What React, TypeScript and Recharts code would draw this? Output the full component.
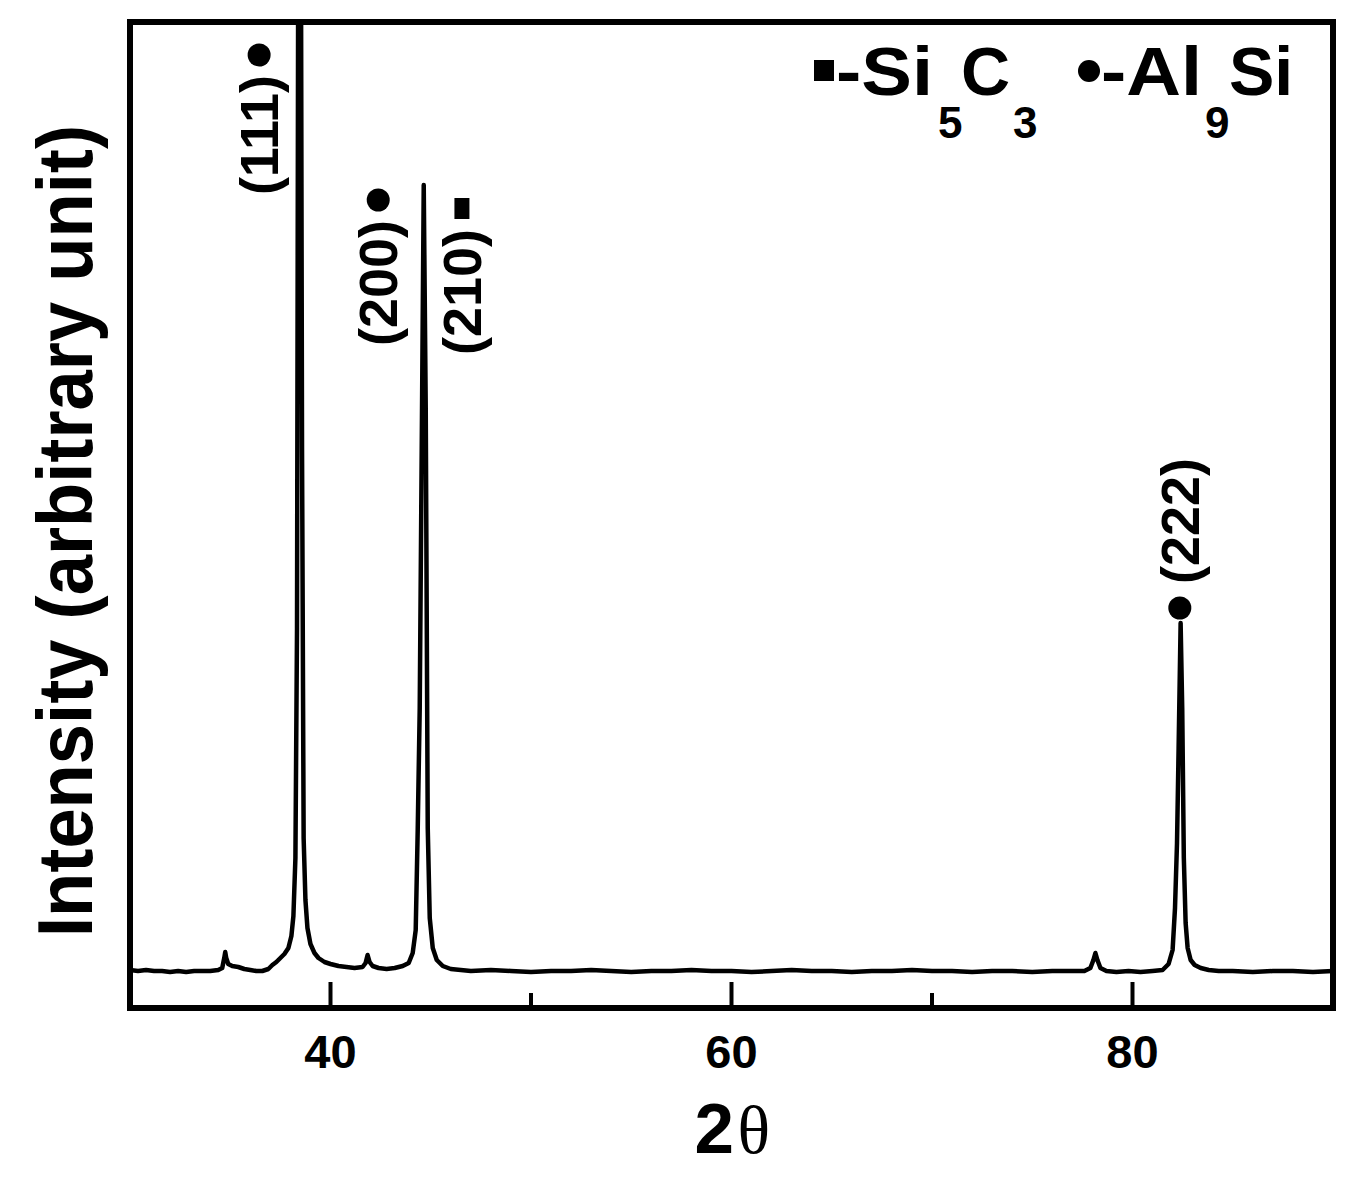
import React from 'react';
import { LineChart, Line, XAxis, YAxis, ReferenceDot, Label } from 'recharts';

const twoTheta = [
  30.0, 30.4, 30.8, 31.2, 31.6, 32.0, 32.4, 32.8, 33.2, 33.6, 34.0, 34.4, 34.6, 34.7, 34.75, 34.8, 34.9,
  35.1, 35.4, 35.7, 36.0, 36.3, 36.6, 36.9, 37.1, 37.3, 37.5, 37.7, 37.9, 38.05, 38.15, 38.25, 38.33,
  38.42, 38.5, 38.58, 38.66, 38.75, 38.85, 39.0, 39.2, 39.4, 39.7, 40.0, 40.4, 40.8, 41.2, 41.6, 41.75,
  41.85, 41.95, 42.1, 42.4, 42.8, 43.2, 43.6, 43.9, 44.1, 44.25, 44.35, 44.45, 44.55, 44.65, 44.75,
  44.85, 44.95, 45.1, 45.3, 45.6, 46.0, 46.5, 47, 48, 49, 50, 51, 52, 53, 54, 55, 56, 57, 58, 59, 60,
  61, 62, 63, 64, 65, 66, 67, 68, 69, 70, 71, 72, 73, 74, 75, 76, 77, 77.6, 77.9, 78.05, 78.15, 78.25,
  78.4, 78.7, 79.2, 79.8, 80.4, 81.0, 81.5, 81.8, 82.0, 82.12, 82.22, 82.3, 82.4, 82.48, 82.56, 82.65,
  82.75, 82.9, 83.1, 83.4, 83.8, 84.3, 85, 86, 87, 88, 89, 90,
];
const intensity = [
  38, 37, 38, 37, 37, 36, 37, 36, 37, 37, 37, 38, 40, 50, 56, 50, 44,
  42, 41, 39, 38, 37, 37, 39, 43, 46, 50, 54, 60, 72, 92, 150, 380,
  1400, 1300, 560, 170, 108, 80, 64, 55, 50, 46, 44, 42, 41, 40, 41, 45,
  53, 46, 42, 40, 39, 40, 42, 45, 55, 78, 178, 300, 560, 823, 600,
  180, 90, 60, 48, 42, 39, 38, 37, 38, 37, 36, 37, 37, 38, 37, 36, 37, 37, 38, 37, 37,
  36, 37, 38, 37, 37, 36, 37, 37, 38, 37, 37, 36, 37, 37, 36, 37, 37, 37, 40, 48, 55, 48,
  40, 37, 36, 37, 36, 37, 38, 44, 58, 100, 165, 260, 385, 300, 150, 85,
  60, 48, 43, 40, 38, 37, 37, 36, 37, 37, 36, 37,
];

const majorTicks = [40, 60, 80];
const allTicks = [40, 50, 60, 70, 80];

// peak annotations (Miller indices), anchored at the marker in data coordinates
const peakNames = ['(111)', '(200)', '(210)', '(222)'];
const peakMarkers = ['circle', 'circle', 'square', 'circle'];
const peakSides = ['below', 'below', 'below', 'above'];
const peakLabelTheta = [36.44, 42.38, 46.58, 82.36];
const peakLabelIntensity = [953, 808, 799, 400];

const data = twoTheta.map((t, k) => ({ t, i: intensity[k] }));

const SANS = 'Liberation Sans, Arial, Helvetica, sans-serif';
const SERIF = 'Liberation Serif, Times New Roman, serif';
const frameLine = { stroke: '#000', strokeWidth: 6, strokeLinecap: 'square' as const };

const BottomTick = (props: any) => {
  const { x, y, payload } = props;
  const major = majorTicks.includes(payload.value);
  return (
    <g>
      <line x1={x} x2={x} y1={y} y2={y - (major ? 26 : 15)} stroke="#000" strokeWidth={4} />
      {major && (
        <text x={x} y={y + 60} textAnchor="middle" fontSize={47} fontWeight="bold" fontFamily={SANS} fill="#000">
          {payload.value}
        </text>
      )}
    </g>
  );
};

const XTitle = (props: any) => {
  const vb = props.viewBox || { x: 122, y: 1000, width: 1203, height: 120 };
  const cx = vb.x + vb.width / 2;
  const by = vb.y + 145;
  return (
    <g>
      <text x={cx - 37} y={by} fontSize={71} fontWeight="bold" fontFamily={SANS} fill="#000">2</text>
      <text x={cx + 6} y={by} fontSize={68} fontFamily={SERIF} fill="#000">θ</text>
    </g>
  );
};

const YTitle = (props: any) => {
  const vb = props.viewBox || { x: 0, y: 14, width: 122, height: 986 };
  const x = vb.x + 84;
  const y = vb.y + 509;
  return (
    <text
      transform={`translate(${x},${y}) rotate(-90)`}
      textAnchor="middle"
      fontSize={77}
      fontWeight="bold"
      fontFamily={SANS}
      fill="#000"
      textLength={812}
      lengthAdjust="spacingAndGlyphs"
    >
      Intensity (arbitrary unit)
    </text>
  );
};

const PhaseLegend = (props: any) => {
  const vb = props.viewBox || { x: 122, y: 13, width: 1203, height: 1 };
  const r = vb.x + vb.width; // plot right edge
  const t = vb.y + vb.height; // plot top edge
  const base = t + 73;
  const sub = t + 116;
  const big = { fontSize: 68, fontWeight: 'bold' as const, fontFamily: SANS, fill: '#000' };
  const small = { fontSize: 44, fontWeight: 'bold' as const, fontFamily: SANS, fill: '#000' };
  return (
    <g>
      <rect x={r - 519} y={t + 38} width={20} height={21} fill="#000" />
      <text x={r - 497} y={base} {...big} textLength={97} lengthAdjust="spacingAndGlyphs">-Si</text>
      <text x={r - 395} y={sub} {...small}>5</text>
      <text x={r - 372} y={base} {...big}>C</text>
      <text x={r - 320} y={sub} {...small}>3</text>
      <circle cx={r - 244} cy={t + 49} r={11} fill="#000" />
      <text x={r - 232} y={base} {...big} textLength={101} lengthAdjust="spacingAndGlyphs">-Al</text>
      <text x={r - 128} y={sub} {...small}>9</text>
      <text x={r - 104} y={base} {...big}>Si</text>
    </g>
  );
};

const makePeakShape = (k: number) => (props: any) => {
  const { cx, cy } = props;
  const below = peakSides[k] === 'below';
  const ty = below ? cy + 20 : cy - 24;
  return (
    <g>
      {peakMarkers[k] === 'circle' ? (
        <circle cx={cx} cy={cy} r={11.5} fill="#000" />
      ) : (
        <rect x={cx - 8} y={cy - 11} width={15} height={21} fill="#000" />
      )}
      <text
        transform={`translate(${cx},${ty}) rotate(-90)`}
        textAnchor={below ? 'end' : 'start'}
        dominantBaseline="central"
        fontSize={54}
        fontWeight="bold"
        fontFamily={SANS}
        fill="#000"
      >
        {peakNames[k]}
      </text>
    </g>
  );
};

export default function App() {
  return (
    <div style={{ width: 1360, height: 1170, background: '#fff' }}>
      <LineChart width={1360} height={1170} data={data} margin={{ top: 13, right: 34, bottom: 50, left: 0 }}>
        <XAxis
          xAxisId="b"
          dataKey="t"
          type="number"
          domain={[30, 90]}
          allowDataOverflow
          ticks={allTicks}
          interval={0}
          tick={<BottomTick />}
          tickLine={false}
          tickSize={0}
          tickMargin={0}
          height={120}
          axisLine={frameLine}
        >
          <Label content={XTitle} />
        </XAxis>
        <XAxis
          xAxisId="top"
          orientation="top"
          dataKey="t"
          type="number"
          domain={[30, 90]}
          allowDataOverflow
          ticks={allTicks}
          tick={false}
          tickLine={false}
          height={1}
          axisLine={frameLine}
        >
          <Label content={PhaseLegend} />
        </XAxis>
        <YAxis
          yAxisId="l"
          type="number"
          domain={[0, 986]}
          allowDataOverflow
          tick={false}
          tickLine={false}
          width={122}
          axisLine={frameLine}
        >
          <Label content={YTitle} />
        </YAxis>
        <YAxis
          yAxisId="r"
          orientation="right"
          type="number"
          domain={[0, 986]}
          allowDataOverflow
          tick={false}
          tickLine={false}
          width={1}
          axisLine={frameLine}
        />
        <Line
          xAxisId="b"
          yAxisId="l"
          dataKey="i"
          type="linear"
          stroke="#000"
          strokeWidth={4.5}
          strokeLinejoin="round"
          dot={false}
          activeDot={false}
          isAnimationActive={false}
        />
        <Line
          xAxisId="top"
          yAxisId="r"
          dataKey="i"
          type="linear"
          stroke="none"
          strokeWidth={0}
          dot={false}
          activeDot={false}
          legendType="none"
          isAnimationActive={false}
        />
        {peakNames.map((name, k) => (
          <ReferenceDot
            key={name}
            xAxisId="b"
            yAxisId="l"
            x={peakLabelTheta[k]}
            y={peakLabelIntensity[k]}
            ifOverflow="visible"
            shape={makePeakShape(k)}
          />
        ))}
      </LineChart>
    </div>
  );
}
